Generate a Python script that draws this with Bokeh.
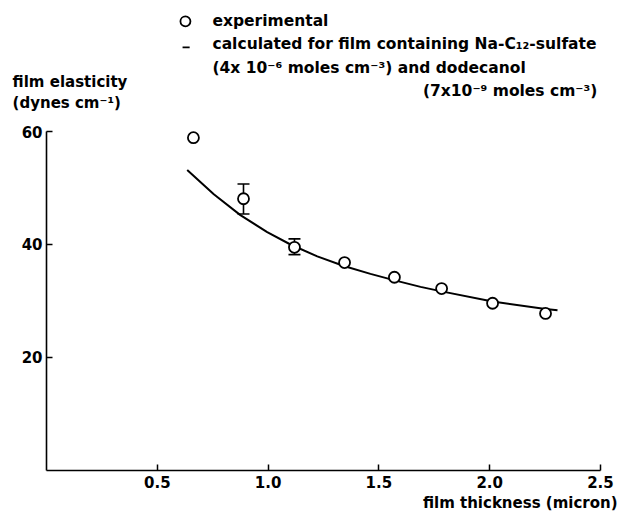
from bokeh.plotting import figure
from bokeh.models import (Label, FixedTicker, Whisker, ColumnDataSource, TeeHead, Range1d,
                          LinearAxis, NumeralTickFormatter)
from bokeh.embed import file_html
from bokeh.resources import INLINE

# ---- data ----
exp_x = [0.663, 0.889, 1.119, 1.345, 1.570, 1.783, 2.013, 2.252]
exp_y = [58.9, 48.1, 39.5, 36.8, 34.2, 32.2, 29.6, 27.8]
err_x = [0.889, 1.119]
err_lo = [45.4, 38.2]
err_hi = [50.7, 41.0]
calc_x = [0.635, 0.755, 0.875, 0.996, 1.101, 1.222, 1.342, 1.462, 1.567, 1.688, 1.783, 2.013, 2.252, 2.306]
calc_y = [53.2, 48.9, 45.2, 42.2, 40.0, 37.9, 36.2, 34.8, 33.7, 32.5, 31.7, 29.9, 28.6, 28.35]
x_ticks = [0.5, 1.0, 1.5, 2.0, 2.5]
y_ticks = [20, 40, 60]

FONT = "DejaVu Sans"
FS = "15px"

p = figure(width=619, height=511, output_backend="svg", toolbar_location=None,
           x_range=Range1d(-0.2076, 2.5858), y_range=Range1d(-7.257, 83.186),
           x_axis_location=None, y_axis_location=None,
           min_border_left=0, min_border_right=0, min_border_top=0, min_border_bottom=0)
p.outline_line_color = None
p.xgrid.visible = False
p.ygrid.visible = False

xax = LinearAxis(fixed_location=0)
yax = LinearAxis(fixed_location=0)
p.add_layout(xax, "below")
p.add_layout(yax, "left")
for ax, ticks, bnds in ((xax, x_ticks, (0, 2.5)), (yax, y_ticks, (0, 60))):
    ax.ticker = FixedTicker(ticks=ticks)
    ax.bounds = bnds
    ax.axis_line_width = 1.6
    ax.axis_line_color = "black"
    ax.major_tick_in = 6
    ax.major_tick_out = 0
    ax.major_tick_line_width = 1.5
    ax.minor_tick_line_color = None
    ax.major_label_text_font = FONT
    ax.major_label_text_font_size = "15px"
    ax.major_label_text_font_style = "bold"
    ax.major_label_text_color = "black"
xax.formatter = NumeralTickFormatter(format="0.0")
xax.major_label_standoff = 6
yax.major_label_standoff = 4

# calculated curve
p.line(calc_x, calc_y, line_color="black", line_width=2, line_join="round")

# error bars
src = ColumnDataSource(dict(x=err_x, lo=err_lo, hi=err_hi))
w = Whisker(source=src, base="x", lower="lo", upper="hi", dimension="height",
            line_color="black", line_width=1.6,
            upper_head=TeeHead(size=12, line_color="black", line_width=1.6),
            lower_head=TeeHead(size=12, line_color="black", line_width=1.6))
p.add_layout(w)

# experimental points
p.scatter(exp_x, exp_y, size=11, fill_color="white", line_color="black", line_width=1.8)

# legend (manual)
p.scatter([0.627], [79.5], size=10, fill_color="white", line_color="black", line_width=1.8)
p.segment(x0=[0.614], y0=[74.9], x1=[0.646], y1=[74.9], line_color="black", line_width=1.8)

def lab(x, y, t, align="left", size=FS):
    p.add_layout(Label(x=x, y=y, text=t, text_font=FONT, text_font_size=size,
                       text_font_style="bold", text_align=align, text_baseline="middle",
                       text_color="black"))

lab(0.749, 79.5, "experimental", size="15.5px")
lab(0.749, 75.4, "calculated for film containing Na-C\u2081\u2082-sulfate", size="15.5px")
lab(0.749, 71.3, "(4x 10\u207b\u2076 moles cm\u207b\u00b3) and dodecanol", size="15.5px")
lab(2.486, 67.1, "(7x10\u207b\u2079 moles cm\u207b\u00b3)", align="right", size="15.5px")
lab(-0.153, 68.7, "film elasticity")
lab(-0.153, 65.0, "(dynes cm\u207b\u00b9)")
lab(2.577, -5.84, "film thickness (micron)", align="right")

open("out.html", "w").write(file_html(p, INLINE))
